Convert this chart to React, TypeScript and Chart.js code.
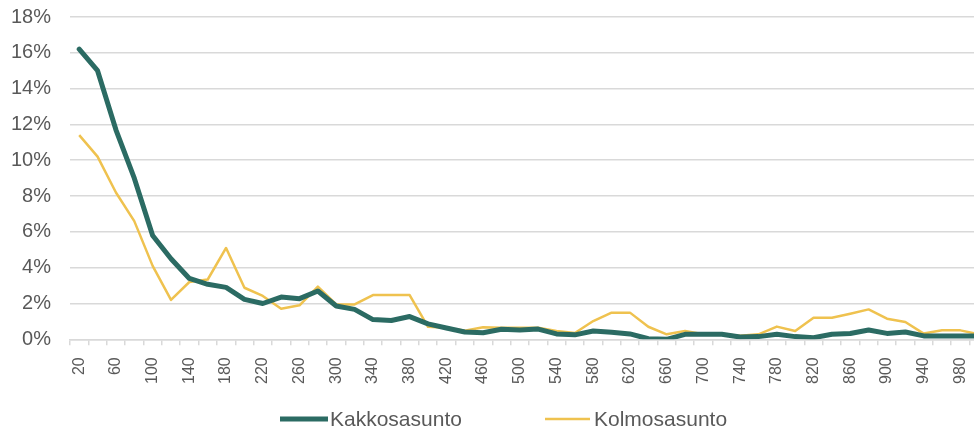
import React, { useEffect, useRef } from "react";
import { Chart, registerables } from "chart.js";

Chart.register(...registerables);

// Category labels (price band upper limits)
const categories: string[] = [
  "20", "40", "60", "80", "100", "120", "140", "160", "180", "200",
  "220", "240", "260", "280", "300", "320", "340", "360", "380", "400",
  "420", "440", "460", "480", "500", "520", "540", "560", "580", "600",
  "620", "640", "660", "680", "700", "720", "740", "760", "780", "800",
  "820", "840", "860", "880", "900", "920", "940", "960", "980", "1000",
];

const seriesNames: string[] = ["Kakkosasunto", "Kolmosasunto"];

// Values in percent
const kakkosasunto: number[] = [
  16.2, 15.0, 11.7, 9.0, 5.8, 4.5, 3.4, 3.07, 2.9, 2.23,
  2.0, 2.36, 2.27, 2.7, 1.86, 1.67, 1.1, 1.05, 1.27, 0.86,
  0.63, 0.41, 0.37, 0.56, 0.52, 0.57, 0.3, 0.25, 0.46, 0.4,
  0.3, 0.03, 0.0, 0.28, 0.28, 0.28, 0.13, 0.15, 0.28, 0.15,
  0.09, 0.28, 0.32, 0.52, 0.33, 0.41, 0.19, 0.19, 0.19, 0.19,
];

const kolmosasunto: number[] = [
  11.4, 10.2, 8.2, 6.6, 4.1, 2.2, 3.2, 3.34, 5.1, 2.88,
  2.42, 1.71, 1.9, 2.94, 1.95, 1.95, 2.47, 2.47, 2.47, 0.7,
  0.65, 0.48, 0.67, 0.65, 0.65, 0.65, 0.46, 0.35, 1.02, 1.49,
  1.49, 0.7, 0.28, 0.46, 0.28, 0.28, 0.2, 0.28, 0.71, 0.46,
  1.2, 1.2, 1.43, 1.67, 1.15, 0.97, 0.32, 0.5, 0.5, 0.28,
];

const yMin = 0;
const yMax = 18;
const yStep = 2;

const TEAL = "#2b6b63";
const YELLOW = "#efc24f";
const TEXT = "#595959";
const GRID = "#d9d9d9";
const FONT = "'Liberation Sans', Arial, sans-serif";

const SHIFT = 6; // canvas is shifted left by this many pixels

const legendPlugin = {
  id: "bottomLegend",
  afterDraw(chart: any) {
    const ctx = chart.ctx as CanvasRenderingContext2D;
    const items = [
      { name: seriesNames[0], color: TEAL, width: 5, x0: 280, x1: 328, tx: 330 },
      { name: seriesNames[1], color: YELLOW, width: 2.5, x0: 545, x1: 590, tx: 594 },
    ];
    const y = 419;
    ctx.save();
    items.forEach((it) => {
      ctx.beginPath();
      ctx.strokeStyle = it.color;
      ctx.lineWidth = it.width;
      ctx.lineCap = "butt";
      ctx.moveTo(it.x0 + SHIFT, y);
      ctx.lineTo(it.x1 + SHIFT, y);
      ctx.stroke();
      ctx.fillStyle = TEXT;
      ctx.font = `21px ${FONT}`;
      ctx.textAlign = "left";
      ctx.textBaseline = "middle";
      ctx.fillText(it.name, it.tx + SHIFT, y + 1);
    });
    ctx.restore();
  },
};

export default function App() {
  const canvasRef = useRef<HTMLCanvasElement | null>(null);

  useEffect(() => {
    if (!canvasRef.current) return;
    const chart = new Chart(canvasRef.current, {
      type: "line",
      data: {
        labels: categories,
        datasets: [
          {
            label: seriesNames[0],
            data: kakkosasunto,
            borderColor: TEAL,
            backgroundColor: TEAL,
            borderWidth: 5,
            pointRadius: 0,
            tension: 0,
            borderJoinStyle: "round",
            borderCapStyle: "round",
          },
          {
            label: seriesNames[1],
            data: kolmosasunto,
            borderColor: YELLOW,
            backgroundColor: YELLOW,
            borderWidth: 2.5,
            pointRadius: 0,
            tension: 0,
            borderJoinStyle: "round",
          },
        ],
      },
      options: {
        animation: false,
        responsive: false,
        devicePixelRatio: 1,
        layout: { padding: { top: 0, left: 12, right: 3, bottom: 36 } },
        plugins: {
          legend: { display: false },
          tooltip: { enabled: false },
        },
        scales: {
          x: {
            offset: true,
            grid: {
              offset: true,
              drawOnChartArea: false,
              drawTicks: true,
              tickLength: 6,
              color: GRID,
              lineWidth: 1.5,
            },
            border: { display: true, color: GRID, width: 1.5 },
            ticks: {
              autoSkip: false,
              maxRotation: 90,
              minRotation: 90,
              padding: 12,
              color: TEXT,
              font: { family: FONT, size: 16 },
              callback: (_v: any, i: number) => (i % 2 === 0 ? categories[i] : ""),
            },
          },
          y: {
            min: yMin,
            max: yMax,
            grid: {
              color: GRID,
              lineWidth: 1.5,
              drawTicks: true,
              tickLength: 14,
              tickColor: "rgba(0,0,0,0)",
            },
            border: { display: false },
            ticks: {
              stepSize: yStep,
              padding: 5,
              color: TEXT,
              font: { family: FONT, size: 20 },
              callback: (v: any) => `${v}%`,
            },
          },
        },
      },
      plugins: [legendPlugin],
    });
    return () => chart.destroy();
  }, []);

  return (
    <div
      style={{
        position: "fixed",
        left: 0,
        top: 0,
        width: 974,
        height: 432,
        overflow: "hidden",
        background: "#fff",
      }}
    >
      <canvas
        ref={canvasRef}
        width={1016}
        height={432}
        style={{ display: "block", marginLeft: -SHIFT }}
      />
    </div>
  );
}
